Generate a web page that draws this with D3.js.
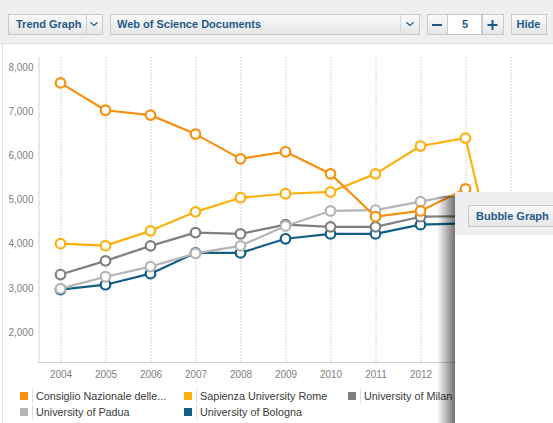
<!DOCTYPE html>
<html>
<head>
<meta charset="utf-8">
<script src="https://cdn.jsdelivr.net/npm/d3@7"></script>
<style>
  body { margin: 0; background: #fff; }
  svg { display: block; font-family: "Liberation Sans", Arial, sans-serif; }
</style>
</head>
<body>
<div id="chart"></div>
<script>
// data
const years = ["2004","2005","2006","2007","2008","2009","2010","2011","2012","2013","2014"];
const seriesNames = ["Consiglio Nazionale delle...", "Sapienza University Rome", "University of Milan", "University of Padua", "University of Bologna"];
const consiglio = [7640, 7020, 6910, 6480, 5920, 6080, 5580, 4610, 4740, 5240, 2300];
const sapienza  = [4000, 3955, 4290, 4720, 5040, 5130, 5170, 5580, 6210, 6390, 2100];
const milan     = [3300, 3610, 3950, 4250, 4220, 4430, 4380, 4380, 4610, 4620, 1900];
const padua     = [2980, 3250, 3480, 3780, 3950, 4400, 4740, 4760, 4950, 5150, 2000];
const bologna   = [2960, 3070, 3320, 3790, 3790, 4110, 4220, 4220, 4430, 4460, 1850];
const colors = ["#f7900f", "#fdb10f", "#7f7f7f", "#b5b5b7", "#135e86"];
const yTicks = [2000, 3000, 4000, 5000, 6000, 7000, 8000];

const W = 553, H = 423;
const svg = d3.select("#chart").append("svg").attr("width", W).attr("height", H);

// ---- toolbar
svg.append("rect").attr("x", 0).attr("y", 0).attr("width", W).attr("height", 43).attr("fill", "#efefef");
svg.append("line").attr("x1", 0).attr("x2", W).attr("y1", 43.5).attr("y2", 43.5).attr("stroke", "#e2e2e2");
svg.append("line").attr("x1", 2.5).attr("x2", 2.5).attr("y1", 43).attr("y2", H).attr("stroke", "#e0e0e0");

const defs = svg.append("defs");
const bg = defs.append("linearGradient").attr("id", "btn").attr("x1", 0).attr("x2", 0).attr("y1", 0).attr("y2", 1);
bg.append("stop").attr("offset", "0%").attr("stop-color", "#fafafa");
bg.append("stop").attr("offset", "100%").attr("stop-color", "#e6e6e6");
const sh = defs.append("linearGradient").attr("id", "shadow").attr("x1", 0).attr("x2", 1).attr("y1", 0).attr("y2", 0);
sh.append("stop").attr("offset", "0%").attr("stop-color", "#000").attr("stop-opacity", 0);
sh.append("stop").attr("offset", "100%").attr("stop-color", "#000").attr("stop-opacity", 0.55);

function button(x, y, w, h, fill) {
  svg.append("rect").attr("x", x + 0.5).attr("y", y + 0.5).attr("width", w).attr("height", h)
    .attr("fill", fill || "url(#btn)").attr("stroke", "#c9c9c9");
}
function label(x, y, t, anchor) {
  svg.append("text").attr("x", x).attr("y", y).attr("text-anchor", anchor || "start")
    .attr("font-size", 11).attr("font-weight", "bold").attr("fill", "#1d5a8c").text(t);
}
function chevron(cx, cy) {
  svg.append("path").attr("d", `M${cx - 3.5},${cy - 1.5}L${cx},${cy + 1.5}L${cx + 3.5},${cy - 1.5}`)
    .attr("fill", "none").attr("stroke", "#1d5a8c").attr("stroke-width", 1.2);
}
button(8, 14, 94, 20);
svg.append("line").attr("x1", 86.5).attr("x2", 86.5).attr("y1", 15).attr("y2", 34).attr("stroke", "#d0d0d0");
label(16, 28, "Trend Graph");
chevron(94, 24);
button(110, 14, 309, 20);
svg.append("line").attr("x1", 400.5).attr("x2", 400.5).attr("y1", 15).attr("y2", 34).attr("stroke", "#d8d8d8");
label(117, 28, "Web of Science Documents");
chevron(410, 24);
button(427, 14, 20, 20);
svg.append("rect").attr("x", 447.5).attr("y", 14.5).attr("width", 34).attr("height", 20).attr("fill", "#fff").attr("stroke", "#c9c9c9");
button(482, 14, 21, 20);
svg.append("line").attr("x1", 432).attr("x2", 442).attr("y1", 25).attr("y2", 25).attr("stroke", "#1d5a8c").attr("stroke-width", 2);
label(465, 28, "5", "middle");
svg.append("path").attr("d", "M492.5,20V30M487.5,25H497.5").attr("stroke", "#1d5a8c").attr("stroke-width", 2);
button(511, 14, 35, 20);
label(528.5, 28, "Hide", "middle");

// ---- scales
const x = d3.scalePoint().domain(years).range([38, 533]).padding(0.5);
const y = d3.scaleLinear().domain([1320, 8226]).range([362, 57]);

// grid
svg.append("g").selectAll("line").data(years).join("line")
  .attr("x1", d => x(d) + 0.5).attr("x2", d => x(d) + 0.5)
  .attr("y1", 57).attr("y2", 362)
  .attr("stroke", "#d6d6d6").attr("stroke-dasharray", "2,1");

// axes
const yAxis = svg.append("g").attr("transform", "translate(38.5,0)")
  .call(d3.axisLeft(y).tickValues(yTicks).tickFormat(d3.format(",")).tickSize(0).tickPadding(5));
yAxis.select(".domain").attr("stroke", "#d3d3d3");
yAxis.selectAll("text").attr("fill", "#808080").attr("font-size", 10).attr("font-family", "Liberation Sans, Arial, sans-serif");

const xAxis = svg.append("g").attr("transform", "translate(0,362.5)")
  .call(d3.axisBottom(x).tickSize(0).tickPadding(8));
xAxis.select(".domain").attr("stroke", "#d3d3d3").attr("d", "M38,0H533");
xAxis.selectAll("text").attr("fill", "#808080").attr("font-size", 10).attr("font-family", "Liberation Sans, Arial, sans-serif");

// lines
const allSeries = [consiglio, sapienza, milan, padua, bologna];
const drawOrder = [4, 2, 3, 1, 0];
const line = d3.line().x((d, i) => x(years[i])).y(d => y(d));
drawOrder.forEach(k => {
  const g = svg.append("g");
  g.append("path").datum(allSeries[k]).attr("d", line)
    .attr("fill", "none").attr("stroke", colors[k]).attr("stroke-width", 2.2).attr("stroke-linejoin", "round");
  g.selectAll("circle").data(allSeries[k]).join("circle")
    .attr("cx", (d, i) => x(years[i])).attr("cy", d => y(d)).attr("r", 4.8)
    .attr("fill", "#fff").attr("stroke", colors[k]).attr("stroke-width", 2.2);
});

// legend
const legendPos = [[20, 396], [184, 396], [348, 396], [20, 412], [184, 412]];
seriesNames.forEach((name, i) => {
  const [lx, ly] = legendPos[i];
  svg.append("rect").attr("x", lx).attr("y", ly - 4).attr("width", 8).attr("height", 8).attr("fill", colors[i]);
  svg.append("line").attr("x1", lx + 12.5).attr("x2", lx + 12.5).attr("y1", ly - 7).attr("y2", ly + 7).attr("stroke", "#dddddd");
  svg.append("text").attr("x", lx + 16).attr("y", ly + 4).attr("font-size", 10.8).attr("fill", "#3a3a3a").text(name);
});

// ---- bubble graph panel overlay
svg.append("rect").attr("x", 437).attr("y", 196).attr("width", 18).attr("height", H - 196).attr("fill", "url(#shadow)");
svg.append("rect").attr("x", 455).attr("y", 192).attr("width", W - 455).attr("height", H - 192).attr("fill", "#fff");
svg.append("rect").attr("x", 455).attr("y", 192).attr("width", W - 455).attr("height", 43).attr("fill", "#efefef");
button(468, 205, 95, 21);
label(476, 220, "Bubble Graph");
</script>
</body>
</html>
